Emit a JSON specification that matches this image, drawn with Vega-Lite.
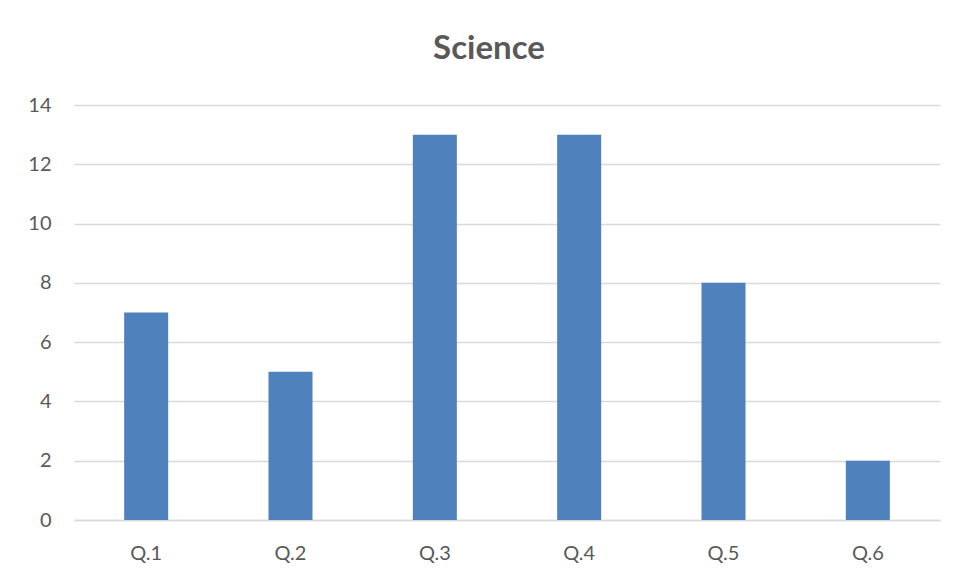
{
  "$schema": "https://vega.github.io/schema/vega-lite/v6.json",
  "autosize": {"type": "none"},
  "padding": {"left": 74, "top": 105, "right": 16, "bottom": 58},
  "width": 866,
  "height": 415,
  "background": "white",
  "title": {
    "text": "Science",
    "font": "Lato",
    "fontSize": 33,
    "fontWeight": "bold",
    "color": "#595959",
    "anchor": "middle",
    "dx": -18,
    "offset": 29
  },
  "data": {
    "values": [
      {"question": "Q.1", "count": 7},
      {"question": "Q.2", "count": 5},
      {"question": "Q.3", "count": 13},
      {"question": "Q.4", "count": 13},
      {"question": "Q.5", "count": 8},
      {"question": "Q.6", "count": 2}
    ]
  },
  "mark": {"type": "bar", "color": "#4F81BD", "width": {"band": 0.305}},
  "encoding": {
    "x": {
      "field": "question",
      "type": "nominal",
      "sort": null,
      "scale": {"paddingInner": 0, "paddingOuter": 0},
      "axis": {
        "title": null,
        "labelAngle": 0,
        "ticks": false,
        "domainColor": "#D9D9D9",
        "domainWidth": 1.5,
        "labelPadding": 23,
        "labelFont": "Lato",
        "labelFontSize": 20,
        "labelColor": "#595959",
        "grid": false
      }
    },
    "y": {
      "field": "count",
      "type": "quantitative",
      "scale": {"domain": [0, 14]},
      "axis": {
        "title": null,
        "values": [0, 2, 4, 6, 8, 10, 12, 14],
        "ticks": false,
        "domain": false,
        "gridColor": "#D9D9D9",
        "gridWidth": 1.5,
        "labelPadding": 23,
        "labelFont": "Lato",
        "labelFontSize": 20,
        "labelColor": "#595959"
      }
    }
  },
  "config": {"view": {"stroke": null}}
}
